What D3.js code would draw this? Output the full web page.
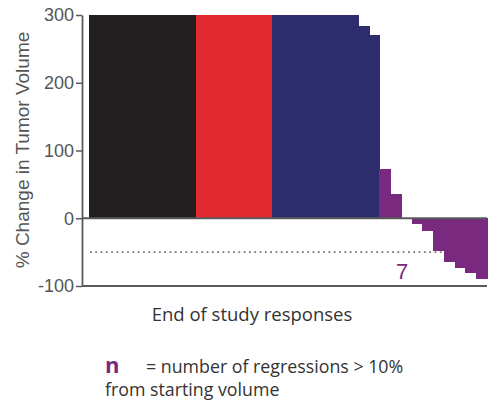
<!DOCTYPE html>
<html><head><meta charset="utf-8">
<script src="https://cdn.jsdelivr.net/npm/d3@7"></script>
<style>
html,body{margin:0;padding:0;background:#fff;}
svg{display:block;}
.arial{font-family:'Liberation Sans', Arial, Helvetica, sans-serif;}
.human{font-family:'Open Sans', sans-serif;}
</style></head>
<body>
<svg id="chart" width="490" height="404"></svg>
<script>
// ---- data ----
const groups = ["black","red","blue","purple"];
const blackValues = [300,300,300,300,300,300,300,300,300,300];
const redValues = [300,300,300,300,300,300,300];
const blueValues = [300,300,300,300,300,300,300,300,284,270];
const purpleValues = [73,36,0,-9,-19,-48,-64,-73,-81,-90];
const yTicks = [-100,0,100,200,300];
const thresholdValue = -50;
const regressionCount = 7;
const yTitle = "% Change in Tumor Volume";
const xTitle = "End of study responses";
const legendSymbol = "n";
const legendLine1 = "= number of regressions > 10%";
const legendLine2 = "from starting volume";

const groupColors = {black:"#231f20", red:"#e12a30", blue:"#2d2c6c", purple:"#792a7e"};

const rows = [];
[blackValues, redValues, blueValues, purpleValues].forEach((vals, gi) => {
  vals.forEach(v => rows.push({id: rows.length + 1, group: groups[gi], value: v}));
});

const svg = d3.select("#chart");
const axisX = 82;
const x = d3.scaleBand().domain(rows.map(d => d.id)).range([88.5, 487]).padding(0);
const y = d3.scaleLinear().domain([-100, 300]).range([286, 15]).clamp(true);

// dotted threshold line (under bars)
svg.append("line")
  .attr("x1", 90).attr("x2", 487)
  .attr("y1", y(thresholdValue)).attr("y2", y(thresholdValue))
  .attr("stroke", "#777").attr("stroke-width", 1.8)
  .attr("stroke-dasharray", "1.8,3.5");

// bars
svg.append("g").attr("shape-rendering", "crispEdges").selectAll("rect").data(rows).join("rect")
  .attr("x", d => x(d.id))
  .attr("width", x.bandwidth() + 1)
  .attr("y", d => Math.min(y(d.value), y(0)))
  .attr("height", d => Math.abs(y(d.value) - y(0)))
  .attr("fill", d => groupColors[d.group]);

// zero line and bottom line
[0, -100].forEach(v => {
  svg.append("line")
    .attr("x1", axisX).attr("x2", 487)
    .attr("y1", y(v)).attr("y2", y(v))
    .attr("stroke", "#5a5a5a").attr("stroke-width", 1.8);
});

// y axis
const yAxis = svg.append("g")
  .attr("transform", `translate(${axisX},0)`)
  .call(d3.axisLeft(y).tickValues(yTicks).tickFormat(d => String(d)).tickSize(6).tickSizeOuter(0).tickPadding(2));
yAxis.attr("font-family", null).attr("font-size", null);
yAxis.select(".domain").attr("stroke", "#5a5a5a").attr("stroke-width", 1.8);
yAxis.selectAll(".tick line").attr("stroke", "#5a5a5a").attr("stroke-width", 1.5);
yAxis.selectAll(".tick text")
  .attr("class", "arial")
  .attr("font-size", 18).attr("fill", "#555");

// y title
svg.append("text")
  .attr("class", "arial")
  .attr("transform", "translate(29,150) rotate(-90)")
  .attr("text-anchor", "middle")
  .attr("font-size", 19).attr("fill", "#555")
  .text(yTitle);

// regression count label
svg.append("text")
  .attr("class", "arial")
  .attr("x", 402).attr("y", 278.5)
  .attr("text-anchor", "middle")
  .attr("font-size", 22).attr("fill", groupColors.purple)
  .text(regressionCount);

// x title
svg.append("text")
  .attr("class", "human")
  .attr("x", 252).attr("y", 321)
  .attr("text-anchor", "middle")
  .attr("font-size", 18.5).attr("fill", "#333")
  .text(xTitle);

// legend
svg.append("text")
  .attr("class", "human")
  .attr("x", 105).attr("y", 373)
  .attr("font-weight", "bold")
  .attr("font-size", 22).attr("fill", groupColors.purple)
  .text(legendSymbol);
svg.append("text")
  .attr("class", "human")
  .attr("x", 146).attr("y", 373)
  .attr("font-size", 17.8).attr("fill", "#333")
  .text(legendLine1);
svg.append("text")
  .attr("class", "human")
  .attr("x", 105).attr("y", 396)
  .attr("font-size", 17.8).attr("fill", "#333")
  .text(legendLine2);
</script>
</body></html>
